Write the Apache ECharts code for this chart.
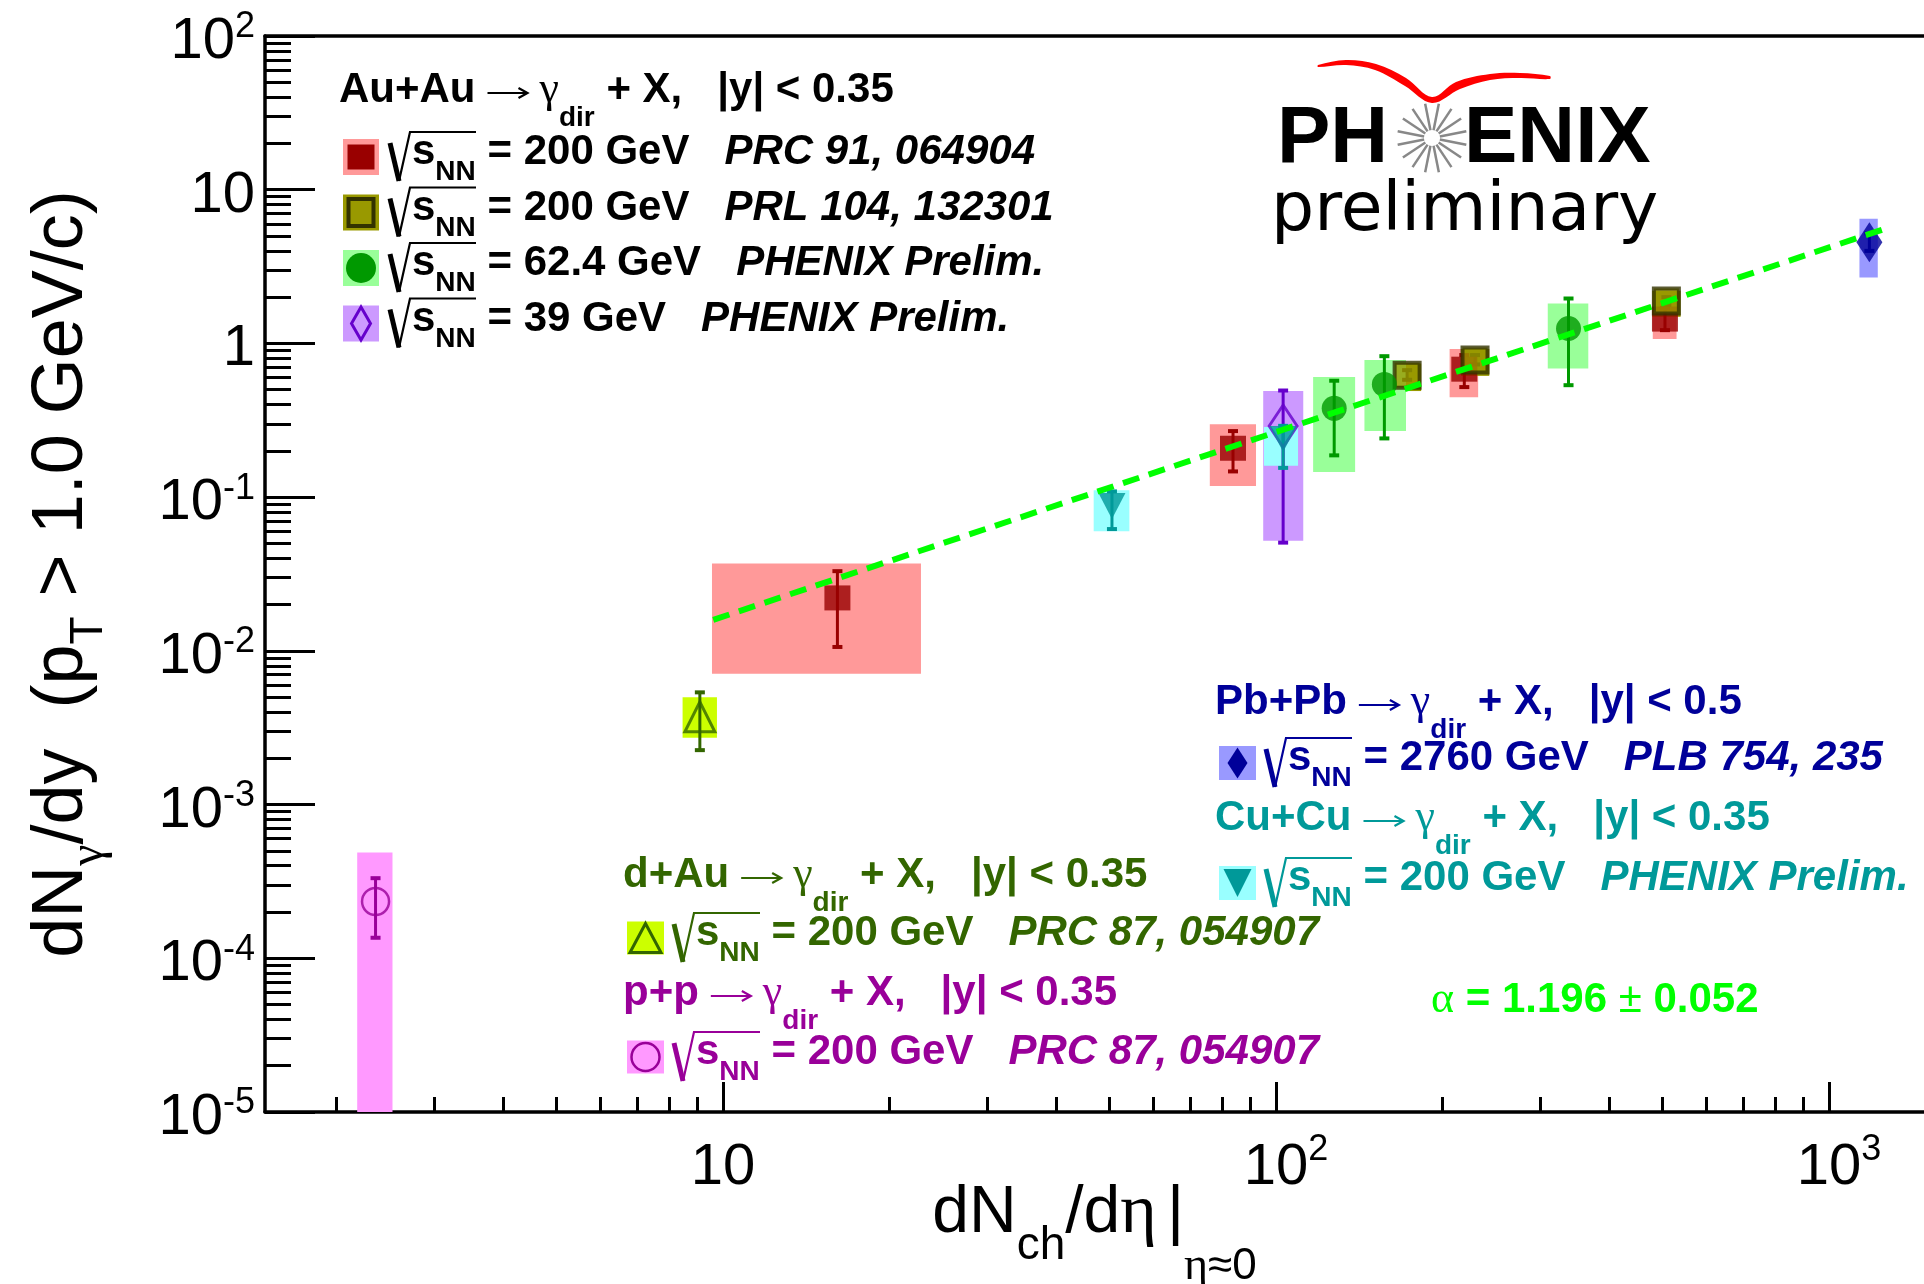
<!DOCTYPE html>
<html>
<head>
<meta charset="utf-8">
<title>Direct photon yield vs dNch/deta</title>
<script src="https://cdn.jsdelivr.net/npm/echarts@6.0.0/dist/echarts.min.js"></script>
<style>
html, body { margin: 0; padding: 0; background: #ffffff; }
#chart { width: 1924px; height: 1284px; }
</style>
</head>
<body>
<div id="chart"></div>
<script>
/* ====================== DATA ====================== */
// axes
const xRange = [1.485, 1485];
const yRange = [1e-5, 100];
const xMajorTicks = [10, 100, 1000];
const xTickBase = ['10', '10', '10'];
const xTickExp = ['', '2', '3'];
const yMajorTicks = [1e-5, 1e-4, 1e-3, 1e-2, 1e-1, 1, 10, 100];
const yTickBase = ['10', '10', '10', '10', '10', '1', '10', '10'];
const yTickExp = ['-5', '-4', '-3', '-2', '-1', '', '', '2'];
const minorMultipliers = [2, 3, 4, 5, 6, 7, 8, 9];

// p+p 200 GeV (PRC 87, 054907)
const pp_x = [2.353];
const pp_y = [2.34e-4];
const pp_statLo = [1.36e-4];
const pp_statHi = [3.32e-4];
const pp_sysXLo = [2.18];
const pp_sysXHi = [2.525];
const pp_sysYLo = [1e-6];
const pp_sysYHi = [4.88e-4];

// d+Au 200 GeV (PRC 87, 054907)
const dau_x = [9.08];
const dau_y = [3.72e-3];
const dau_statLo = [2.26e-3];
const dau_statHi = [5.37e-3];
const dau_sysXLo = [8.45];
const dau_sysXHi = [9.75];
const dau_sysYLo = [2.72e-3];
const dau_sysYHi = [4.99e-3];

// Au+Au 200 GeV (PRC 91, 064904)
const auauA_x = [16.1, 83.6, 219, 505];
const auauA_y = [0.0221, 0.208, 0.68, 1.44];
const auauA_statLo = [0.0106, 0.147, 0.52, 1.22];
const auauA_statHi = [0.033, 0.269, 0.84, 1.70];
const auauA_sysXLo = [9.55, 75.9, 206, 480];
const auauA_sysXHi = [22.8, 92.0, 232, 530];
const auauA_sysYLo = [0.0071, 0.118, 0.447, 1.07];
const auauA_sysYHi = [0.037, 0.298, 0.92, 1.94];

// Au+Au 200 GeV (PRL 104, 132301)
const auauB_x = [172.6, 229, 508];
const auauB_y = [0.622, 0.78, 1.89];
const auauB_statLo = [0.58, 0.73, 1.78];
const auauB_statHi = [0.67, 0.84, 2.00];
const auauB_sysXLo = [163, 216, 479];
const auauB_sysXHi = [183, 243, 539];
const auauB_sysYLo = [0.49, 0.615, 1.49];
const auauB_sysYHi = [0.74, 0.92, 2.20];

// Au+Au 62.4 GeV (PHENIX Prelim.)
const auau62_x = [127.4, 157, 338];
const auau62_y = [0.378, 0.541, 1.25];
const auau62_statLo = [0.187, 0.241, 0.535];
const auau62_statHi = [0.572, 0.826, 1.96];
const auau62_sysXLo = [116.7, 144.5, 310];
const auau62_sysXHi = [139, 171.8, 367];
const auau62_sysYLo = [0.146, 0.269, 0.687];
const auau62_sysYHi = [0.604, 0.78, 1.82];

// Au+Au 39 GeV (PHENIX Prelim.)
const auau39_x = [103];
const auau39_y = [0.29];
const auau39_statLo = [0.0506];
const auau39_statHi = [0.494];
const auau39_sysXLo = [94.8];
const auau39_sysXHi = [112];
const auau39_sysYLo = [0.052];
const auau39_sysYHi = [0.49];

// Cu+Cu 200 GeV (PHENIX Prelim.)
const cucu_x = [50.5, 103];
const cucu_y = [0.0877, 0.239];
const cucu_statLo = [0.062, 0.155];
const cucu_statHi = [0.109, 0.291];
const cucu_sysXLo = [46.8, 95.1];
const cucu_sysXHi = [54.3, 109.6];
const cucu_sysYLo = [0.060, 0.160];
const cucu_sysYHi = [0.111, 0.286];

// Pb+Pb 2760 GeV (PLB 754, 235)
const pbpb_x = [1183];
const pbpb_y = [4.56];
const pbpb_statLo = [4.0];
const pbpb_statHi = [5.2];
const pbpb_sysXLo = [1135];
const pbpb_sysXHi = [1225];
const pbpb_sysYLo = [2.68];
const pbpb_sysYHi = [6.47];

// power-law fit line end points, alpha = 1.196 +- 0.052
const fitX = [9.6, 1256];
const fitY = [0.0159, 5.54];
const fitAlpha = '1.196';
const fitAlphaErr = '0.052';

// legend texts
const auauSystem = 'Au+Au';
const auauYcut = '0.35';
const auauEnergies = ['200', '200', '62.4', '39'];
const auauRefs = ['PRC 91, 064904', 'PRL 104, 132301', 'PHENIX Prelim.', 'PHENIX Prelim.'];
const dauSystem = 'd+Au';
const dauYcut = '0.35';
const dauEnergies = ['200'];
const dauRefs = ['PRC 87, 054907'];
const ppSystem = 'p+p';
const ppYcut = '0.35';
const ppEnergies = ['200'];
const ppRefs = ['PRC 87, 054907'];
const pbpbSystem = 'Pb+Pb';
const pbpbYcut = '0.5';
const pbpbEnergies = ['2760'];
const pbpbRefs = ['PLB 754, 235'];
const cucuSystem = 'Cu+Cu';
const cucuYcut = '0.35';
const cucuEnergies = ['200'];
const cucuRefs = ['PHENIX Prelim.'];

/* ====================== STYLES ====================== */
const SANS = '"Liberation Sans", Arial, Helvetica, sans-serif';
const GREEK = '"Liberation Serif", "Times New Roman", serif';
const STY = {
  pp:     { box: '#ff99ff', col: '#990099', shape: 'circle',  size: [27, 27], open: true, lw: 2.5, lsize: [28, 28] },
  dau:    { box: '#ccff00', col: '#336600', shape: 'triUp',   size: [30, 30], open: true, lw: 3,   lsize: [31, 29] },
  auauA:  { box: '#ff9999', col: '#990000', shape: 'rect',    size: [26, 25], lsize: [27, 25] },
  auauB:  { box: '#999900', col: '#999900', shape: 'rect',    size: [25, 25], border: '#333300', lw: 4, lsize: [25, 27] },
  auau62: { box: '#99ff99', col: '#009900', shape: 'circle',  size: [25, 25], lsize: [30, 30] },
  auau39: { box: '#cc99ff', col: '#6600cc', shape: 'diamond', size: [28, 42], open: true, lw: 3, lsize: [19, 33] },
  cucu:   { box: '#99ffff', col: '#009999', shape: 'triDown', size: [27, 26], lsize: [28, 28] },
  pbpb:   { box: '#9999ff', col: '#000099', shape: 'diamond', size: [26, 40], lsize: [20, 31] }
};

const DATA = {
  pp:     [pp_x, pp_y, pp_statLo, pp_statHi, pp_sysXLo, pp_sysXHi, pp_sysYLo, pp_sysYHi],
  dau:    [dau_x, dau_y, dau_statLo, dau_statHi, dau_sysXLo, dau_sysXHi, dau_sysYLo, dau_sysYHi],
  auauA:  [auauA_x, auauA_y, auauA_statLo, auauA_statHi, auauA_sysXLo, auauA_sysXHi, auauA_sysYLo, auauA_sysYHi],
  auauB:  [auauB_x, auauB_y, auauB_statLo, auauB_statHi, auauB_sysXLo, auauB_sysXHi, auauB_sysYLo, auauB_sysYHi],
  auau62: [auau62_x, auau62_y, auau62_statLo, auau62_statHi, auau62_sysXLo, auau62_sysXHi, auau62_sysYLo, auau62_sysYHi],
  auau39: [auau39_x, auau39_y, auau39_statLo, auau39_statHi, auau39_sysXLo, auau39_sysXHi, auau39_sysYLo, auau39_sysYHi],
  cucu:   [cucu_x, cucu_y, cucu_statLo, cucu_statHi, cucu_sysXLo, cucu_sysXHi, cucu_sysYLo, cucu_sysYHi],
  pbpb:   [pbpb_x, pbpb_y, pbpb_statLo, pbpb_statHi, pbpb_sysXLo, pbpb_sysXHi, pbpb_sysYLo, pbpb_sysYHi]
};
const ORDER = ['pp', 'dau', 'auauA', 'auauB', 'auau62', 'auau39', 'cucu', 'pbpb'];

/* ====================== SERIES ====================== */
const series = [];
ORDER.forEach(k => {
  const d = DATA[k], s = STY[k];
  series.push({
    type: 'custom', name: k + '-sys', silent: true, clip: true, z: 2,
    encode: { x: [0, 1], y: [2, 3] },
    data: d[4].map((v, i) => [d[4][i], d[5][i], d[6][i], d[7][i]]),
    renderItem: (params, api) => {
      const p0 = api.coord([api.value(0), api.value(3)]);
      const p1 = api.coord([api.value(1), api.value(2)]);
      return { type: 'rect', shape: { x: p0[0], y: p0[1], width: p1[0] - p0[0], height: p1[1] - p0[1] },
               style: { fill: s.box } };
    }
  });
});
ORDER.forEach(k => {
  const d = DATA[k], s = STY[k];
  const c = s.border ? s.border : s.col;
  series.push({
    type: 'custom', name: k + '-stat', silent: true, clip: true, z: 3,
    encode: { x: 0, y: [1, 2] },
    data: d[0].map((v, i) => [d[0][i], d[2][i], d[3][i]]),
    renderItem: (params, api) => {
      const a = api.coord([api.value(0), api.value(1)]);
      const b = api.coord([api.value(0), api.value(2)]);
      const cw = 5;
      return { type: 'group', children: [
        { type: 'line', shape: { x1: a[0], y1: a[1], x2: b[0], y2: b[1] }, style: { stroke: c, lineWidth: 3 } },
        { type: 'line', shape: { x1: a[0] - cw, y1: a[1], x2: a[0] + cw, y2: a[1] }, style: { stroke: c, lineWidth: 4 } },
        { type: 'line', shape: { x1: b[0] - cw, y1: b[1], x2: b[0] + cw, y2: b[1] }, style: { stroke: c, lineWidth: 4 } }
      ] };
    }
  });
});
ORDER.forEach(k => {
  const d = DATA[k], s = STY[k];
  const sym = { rect: 'rect', circle: 'circle', diamond: 'diamond', triUp: 'triangle', triDown: 'triangle' }[s.shape];
  const itemStyle = s.open
    ? { color: 'rgba(0,0,0,0)', borderColor: s.col, borderWidth: s.lw }
    : (s.border ? { color: s.col, borderColor: s.border, borderWidth: s.lw } : { color: s.col, borderWidth: 0 });
  series.push({
    type: 'scatter', name: k, silent: true, z: 4,
    symbol: sym, symbolSize: s.size, symbolRotate: s.shape === 'triDown' ? 180 : 0,
    itemStyle: itemStyle,
    emphasis: { disabled: true },
    data: d[0].map((v, i) => [d[0][i], d[1][i]])
  });
});
series.push({
  type: 'line', name: 'fit', silent: true, z: 6, symbol: 'none', showSymbol: false,
  lineStyle: { color: '#00ff00', width: 6, type: [17, 10] },
  data: fitX.map((v, i) => [fitX[i], fitY[i]])
});

/* ====================== TEXT HELPERS ====================== */
const LH = 60;
const mctx = document.createElement('canvas').getContext('2d');
function measure(font, text) { mctx.font = font; return mctx.measureText(text).width; }

function richStyles(color) {
  const base = { fontFamily: SANS, lineHeight: LH, fill: color, color: color };
  return {
    b:   Object.assign({}, base, { fontSize: 42, fontWeight: 'bold' }),
    it:  Object.assign({}, base, { fontSize: 42, fontWeight: 'bold', fontStyle: 'italic' }),
    r:   Object.assign({}, base, { fontSize: 42, fontWeight: 'normal' }),
    g:   Object.assign({}, base, { fontSize: 44, fontWeight: 'normal', fontFamily: GREEK }),
    gap: Object.assign({}, base, { fontSize: 42, fontWeight: 'normal', width: 64 }),
    nn:  Object.assign({}, base, { fontSize: 28, fontWeight: 'bold', padding: [40, 0, 0, 0] }),
    dir: Object.assign({}, base, { fontSize: 28, fontWeight: 'bold', padding: [56, 0, 0, 0] })
  };
}
function textEl(x, baseline, mainSize, text, rich, lh) {
  const L = lh || LH;
  return {
    type: 'text', x: x, y: baseline - L / 2 - 0.3465 * mainSize, z: 100, silent: true,
    style: { text: text, rich: rich, align: 'left', verticalAlign: 'top', lineHeight: L,
             fontFamily: SANS, fontSize: mainSize }
  };
}
function arrowEls(x1, x2, y, color) {
  return [
    { type: 'line', z: 100, silent: true, shape: { x1: x1, y1: y, x2: x2, y2: y }, style: { stroke: color, lineWidth: 2.2 } },
    { type: 'polyline', z: 100, silent: true, shape: { points: [[x2 - 9, y - 5], [x2, y], [x2 - 9, y + 5]] },
      style: { stroke: color, lineWidth: 2.2, fill: null } }
  ];
}
function markerEl(cx, cy, s, size) {
  const w = size[0], h = size[1];
  const st = s.open ? { fill: 'none', stroke: s.col, lineWidth: s.lw }
                    : (s.border ? { fill: s.col, stroke: s.border, lineWidth: s.lw } : { fill: s.col });
  let shape;
  switch (s.shape) {
    case 'rect': return { type: 'rect', z: 101, silent: true, shape: { x: cx - w / 2, y: cy - h / 2, width: w, height: h }, style: st };
    case 'circle': return { type: 'circle', z: 101, silent: true, shape: { cx: cx, cy: cy, r: w / 2 }, style: st };
    case 'diamond': shape = [[cx, cy - h / 2], [cx + w / 2, cy], [cx, cy + h / 2], [cx - w / 2, cy]]; break;
    case 'triUp': shape = [[cx, cy - h / 2], [cx + w / 2, cy + h / 2], [cx - w / 2, cy + h / 2]]; break;
    case 'triDown': shape = [[cx - w / 2, cy - h / 2], [cx + w / 2, cy - h / 2], [cx, cy + h / 2]]; break;
  }
  return { type: 'polygon', z: 101, silent: true, shape: { points: shape }, style: st };
}
function legendBlock(X, headBase, system, ycut, energies, refs, keys, rowBases, color, boxSize) {
  let els = [];
  const rs = richStyles(color);
  const hx = X - 4;
  els.push(textEl(hx, headBase, 42,
    '{b|' + system + '}{gap| }{g|\u03b3}{dir|dir}{b| + X,   |y| < ' + ycut + '}', rs));
  const w1 = measure('bold 42px ' + SANS, system);
  els = els.concat(arrowEls(hx + w1 + 12, hx + w1 + 52, headBase - 12, color));
  energies.forEach((e, i) => {
    const B = rowBases[i];
    const s = STY[keys[i]];
    const cy = B - 10;
    els.push({ type: 'rect', z: 100, silent: true,
      shape: { x: X, y: cy - boxSize[1] / 2, width: boxSize[0], height: boxSize[1] }, style: { fill: s.box } });
    els.push(markerEl(X + boxSize[0] / 2, cy, s, s.lsize));
    const rx = X + 47;
    els.push({ type: 'polyline', z: 100, silent: true, shape: { points: [[rx, B - 24], [rx + 9, B + 14]] },
      style: { stroke: color, lineWidth: 5, fill: null } });
    els.push({ type: 'polyline', z: 100, silent: true, shape: { points: [[rx + 9, B + 14], [rx + 20, B - 35], [rx + 86, B - 35]] },
      style: { stroke: color, lineWidth: 2.2, fill: null } });
    els.push(textEl(X + 69, B, 42,
      '{b|s}{nn|NN}{b| = ' + e + ' GeV}{it|   ' + refs[i] + '}', rs));
  });
  return els;
}

/* ====================== GRAPHICS ====================== */
let graphics = [];
graphics = graphics.concat(legendBlock(343, 105, auauSystem, auauYcut, auauEnergies, auauRefs,
  ['auauA', 'auauB', 'auau62', 'auau39'], [167, 222.5, 278, 333.5], '#000000', [36, 36]));
graphics = graphics.concat(legendBlock(627, 890, dauSystem, dauYcut, dauEnergies, dauRefs,
  ['dau'], [948], '#336600', [37, 33]));
graphics = graphics.concat(legendBlock(627, 1008, ppSystem, ppYcut, ppEnergies, ppRefs,
  ['pp'], [1067], '#990099', [37, 33]));
graphics = graphics.concat(legendBlock(1219, 717, pbpbSystem, pbpbYcut, pbpbEnergies, pbpbRefs,
  ['pbpb'], [773], '#000099', [37, 34]));
graphics = graphics.concat(legendBlock(1219, 833, cucuSystem, cucuYcut, cucuEnergies, cucuRefs,
  ['cucu'], [893], '#009999', [37, 34]));

// fit result
(function () {
  const c = '#00ff00';
  const rs = richStyles(c);
  graphics.push(textEl(1431, 1015, 42,
    '{g|\u03b1}{b| = ' + fitAlpha + ' }{r|\u00b1}{b| ' + fitAlphaErr + '}', rs));
})();

// PHENIX preliminary logo
(function () {
  const logoRich = {
    L: { fontFamily: SANS, fontSize: 80, fontWeight: 'bold', fill: '#000', lineHeight: 90 }
  };
  graphics.push(textEl(1277, 168, 80, '{L|PH}', logoRich, 90));
  graphics.push(textEl(1464, 168, 80, '{L|ENIX}', logoRich, 90));
  const preRich = {
    p: { fontFamily: '"DejaVu Sans", sans-serif', fontSize: 68, fontWeight: 'normal', fill: '#000', lineHeight: 80 }
  };
  graphics.push(textEl(1271, 236, 68, '{p|preliminary}', preRich, 80));
  const cx = 1432, cy = 138;
  for (let k = 0; k < 16; k++) {
    const a = (11.25 + 22.5 * k) * Math.PI / 180;
    graphics.push({ type: 'line', z: 100, silent: true,
      shape: { x1: cx + 8 * Math.cos(a), y1: cy - 8 * Math.sin(a), x2: cx + 35 * Math.cos(a), y2: cy - 35 * Math.sin(a) },
      style: { stroke: '#888888', lineWidth: 2.5 } });
  }
  graphics.push({ type: 'polygon', z: 100, silent: true,
    shape: { smooth: 0.35, points: [
      [1318, 65], [1346, 60], [1376, 64], [1406, 78], [1432, 97], [1456, 82], [1490, 74], [1520, 73], [1550, 76],
      [1550, 79], [1520, 78], [1490, 80], [1460, 89], [1432, 103], [1405, 86], [1375, 70], [1346, 65], [1318, 67]
    ] },
    style: { fill: '#ff0000' } });
})();

/* ====================== AXES ====================== */
function minorList(lo, hi) {
  const out = [];
  for (let e = Math.floor(Math.log10(lo)); e <= Math.ceil(Math.log10(hi)); e++) {
    minorMultipliers.forEach(m => {
      const v = m * Math.pow(10, e);
      if (v > lo && v < hi) out.push(v);
    });
  }
  return out;
}
function idxOf(arr, v) {
  return arr.findIndex(t => Math.abs(Math.log10(t) - Math.log10(v)) < 1e-6);
}
const xMinor = minorList(xRange[0], xRange[1]);
const yMinor = minorList(yRange[0], yRange[1]);

const tickRichX = {
  m:   { fontFamily: SANS, fontSize: 58, color: '#000', lineHeight: 70 },
  sup: { fontFamily: SANS, fontSize: 36, color: '#000', lineHeight: 70, padding: [0, 0, 35, 0] },
  pad: { fontFamily: SANS, fontSize: 36, lineHeight: 70, width: 20 }
};
const tickRichY = {
  m:   { fontFamily: SANS, fontSize: 58, color: '#000', lineHeight: 70, padding: [12, 0, 0, 0] },
  sup: { fontFamily: SANS, fontSize: 36, color: '#000', lineHeight: 70, padding: [0, 0, 17, 0] }
};
const titleRichX = {
  m:    { fontFamily: SANS, fontSize: 66, color: '#000', lineHeight: 80 },
  g:    { fontFamily: GREEK, fontSize: 70, color: '#000', lineHeight: 80 },
  ch:   { fontFamily: SANS, fontSize: 46, color: '#000', lineHeight: 80, padding: [64, 0, 0, 0] },
  sp:   { fontFamily: SANS, fontSize: 66, lineHeight: 80, width: 10 },
  eta0: { fontFamily: SANS, fontSize: 44, color: '#000', lineHeight: 80, padding: [106, 0, 0, 0] },
  geta0:{ fontFamily: GREEK, fontSize: 46, color: '#000', lineHeight: 80, padding: [106, 0, 0, 0] }
};
const titleRichY = {
  m:    { fontFamily: SANS, fontSize: 72, color: '#000', lineHeight: 80 },
  sub:  { fontFamily: SANS, fontSize: 46, color: '#000', lineHeight: 80, padding: [54, 0, 0, 0] },
  gsub: { fontFamily: GREEK, fontSize: 48, color: '#000', lineHeight: 80, padding: [54, 0, 0, 0] }
};
const axisLineStyle = { color: '#000', width: 3.5 };

const option = {
  animation: false,
  backgroundColor: '#ffffff',
  textStyle: { fontFamily: SANS },
  grid: { left: 265, right: 0, top: 36, bottom: 172, containLabel: false, outerBoundsMode: 'none' },
  xAxis: [
    {
      type: 'log', logBase: 10, min: xRange[0], max: xRange[1], position: 'bottom',
      axisLine: { show: true, onZero: false, lineStyle: axisLineStyle },
      axisTick: { show: true, inside: true, length: 30, lineStyle: { color: '#000', width: 3 }, customValues: xMajorTicks },
      axisLabel: {
        show: true, margin: 21, customValues: xMajorTicks, showMinLabel: true, showMaxLabel: true,
        formatter: v => {
          const i = idxOf(xMajorTicks, v);
          if (i < 0) return '';
          return xTickExp[i] ? '{pad| }{m|' + xTickBase[i] + '}{sup|' + xTickExp[i] + '}' : '{m|' + xTickBase[i] + '}';
        },
        rich: tickRichX
      },
      splitLine: { show: false }, minorTick: { show: false }, minorSplitLine: { show: false },
      name: '{m|dN}{ch|ch}{m|/d}{g|\u03b7}{sp| }{m||}{geta0|\u03b7}{eta0|\u22480}',
      nameLocation: 'middle', nameGap: 62, nameMoveOverlap: false,
      nameTextStyle: { rich: titleRichX, fontFamily: SANS, fontSize: 66, color: '#000', lineHeight: 80 }
    },
    {
      type: 'log', logBase: 10, min: xRange[0], max: xRange[1], position: 'bottom',
      axisLine: { show: false, onZero: false },
      axisTick: { show: true, inside: true, length: 15, lineStyle: { color: '#000', width: 3 }, customValues: xMinor },
      axisLabel: { show: false }, splitLine: { show: false }
    },
    {
      type: 'log', logBase: 10, min: xRange[0], max: xRange[1], position: 'top',
      axisLine: { show: true, onZero: false, lineStyle: axisLineStyle },
      axisTick: { show: false }, axisLabel: { show: false }, splitLine: { show: false }
    }
  ],
  yAxis: [
    {
      type: 'log', logBase: 10, min: yRange[0], max: yRange[1], position: 'left',
      axisLine: { show: true, onZero: false, lineStyle: axisLineStyle },
      axisTick: { show: true, inside: true, length: 50, lineStyle: { color: '#000', width: 3 }, customValues: yMajorTicks },
      axisLabel: {
        show: true, margin: 10, customValues: yMajorTicks, showMinLabel: true, showMaxLabel: true,
        formatter: v => {
          const i = idxOf(yMajorTicks, v);
          if (i < 0) return '';
          return yTickExp[i] ? '{m|' + yTickBase[i] + '}{sup|' + yTickExp[i] + '}' : '{m|' + yTickBase[i] + '}';
        },
        rich: tickRichY
      },
      splitLine: { show: false }, minorTick: { show: false }, minorSplitLine: { show: false },
      name: '{m|dN}{gsub|\u03b3}{m|/dy  (p}{sub|T}{m| > 1.0 GeV/c)}',
      nameLocation: 'middle', nameRotate: 90, nameGap: 163, nameMoveOverlap: false,
      nameTextStyle: { rich: titleRichY, fontFamily: SANS, fontSize: 72, color: '#000', lineHeight: 80 }
    },
    {
      type: 'log', logBase: 10, min: yRange[0], max: yRange[1], position: 'left',
      axisLine: { show: false, onZero: false },
      axisTick: { show: true, inside: true, length: 26, lineStyle: { color: '#000', width: 3 }, customValues: yMinor },
      axisLabel: { show: false }, splitLine: { show: false }
    }
  ],
  graphic: { elements: graphics },
  series: series
};

const chart = echarts.init(document.getElementById('chart'), null, { renderer: 'canvas' });
chart.setOption(option);
</script>
</body>
</html>
